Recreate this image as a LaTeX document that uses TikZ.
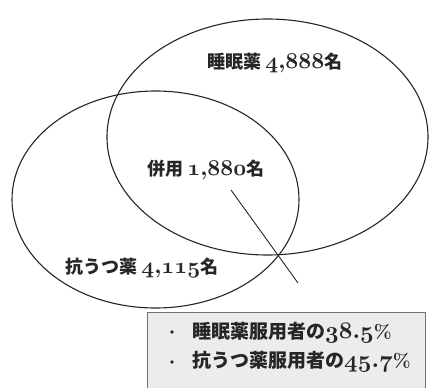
\documentclass[tikz,border=0pt]{standalone}
\usepackage{fontspec}
\newfontfamily\jp{Noto Sans CJK JP}
\DeclareFontFamily{OML}{osfdig}{\skewchar\font127}
\DeclareFontShape{OML}{osfdig}{m}{it}{<->s*[1.25]cmmib10}{}
\newcommand{\osf}{\fontencoding{OML}\fontfamily{osfdig}\fontseries{m}\fontshape{it}\selectfont}
\newcommand{\cm}{\char"3B\relax}
\newcommand{\pd}{\char"3A\relax}
\definecolor{inkc}{HTML}{262626}
\definecolor{boxfill}{HTML}{ECECEC}
\definecolor{boxline}{HTML}{707070}
\tikzset{
  venn/.style={draw=inkc, line width=1.1pt},
  lbl/.style={anchor=west, inner sep=0pt, text=inkc, font=\jp\bfseries\fontsize{18}{20}\selectfont},
  boxtxt/.style={anchor=west, inner sep=0pt, text=inkc, font=\jp\bfseries\fontsize{19}{22}\selectfont},
  dotb/.style={circle, fill=inkc, inner sep=0pt, minimum size=3.6pt}
}
\begin{document}
\begin{tikzpicture}[x=1pt, y=-1pt]
\useasboundingbox (0,0) rectangle (431,388);
\fill[white] (0,0) rectangle (431,388);
% ellipses
\draw[venn] (267.5,137) ellipse [x radius=160.5, y radius=118];
\draw[venn] (155.5,199.5) ellipse [x radius=143.5, y radius=108.5];
% leader line
\coordinate (la) at (231,190);
\coordinate (lb) at (298,283);
\draw[inkc, line width=0.9pt] (la) -- (lb);
% labels
\node[lbl] (sleep) at (207,63) {睡眠薬 {\osf 4\cm888}名};
\node[lbl] (both) at (147,170) {併用 {\osf 1\cm880}名};
\node[lbl] (anti) at (65,268) {抗うつ薬 {\osf 4\cm115}名};
% box
\draw[fill=boxfill, draw=boxline, line width=1pt] (147,312) rectangle (425,392);
\node[dotb] (b1) at (172,332) {};
\node[dotb] (b2) at (172,362) {};
\node[boxtxt] (t1) at (192,333) {睡眠薬服用者の{\osf 38\pd5}{\rmfamily\bfseries\%}};
\node[boxtxt] (t2) at (192,362) {抗うつ薬服用者の{\osf 45\pd7}{\rmfamily\bfseries\%}};
\end{tikzpicture}
\end{document}
